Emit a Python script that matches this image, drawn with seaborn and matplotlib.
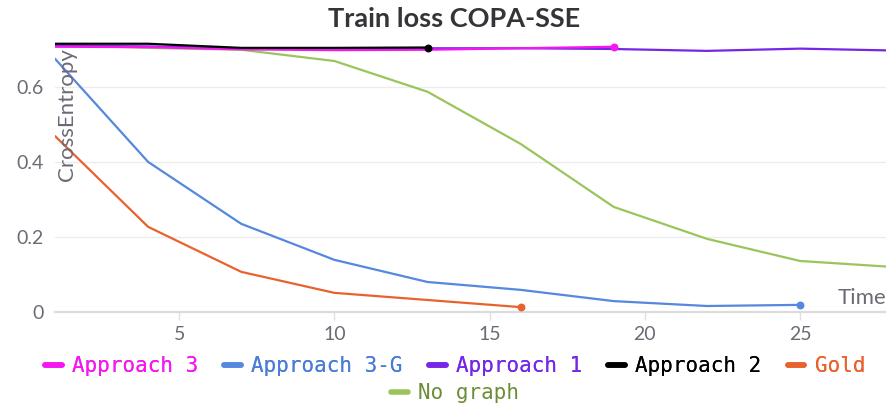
import matplotlib
matplotlib.use("Agg")
import matplotlib.pyplot as plt
from matplotlib.lines import Line2D
import seaborn as sns
import pandas as pd

# training steps logged every 3 epochs
steps = [1, 4, 7, 10, 13, 16, 19, 22, 25, 28]

approach_3   = [0.707, 0.706, 0.700, 0.698, 0.699, 0.703, 0.707]
approach_3g  = [0.675, 0.400, 0.235, 0.139, 0.080, 0.059, 0.029, 0.016, 0.019]
approach_1   = [0.710, 0.708, 0.702, 0.702, 0.703, 0.703, 0.701, 0.696, 0.702, 0.697]
approach_2   = [0.715, 0.715, 0.704, 0.704, 0.705]
gold         = [0.469, 0.227, 0.107, 0.051, 0.032, 0.013]
no_graph     = [0.712, 0.704, 0.699, 0.669, 0.587, 0.448, 0.280, 0.195, 0.136, 0.120]

series = {
    "Approach 3": approach_3,
    "Approach 3-G": approach_3g,
    "Approach 1": approach_1,
    "Approach 2": approach_2,
    "Gold": gold,
    "No graph": no_graph,
}
line_colors = {
    "Approach 3": "#f516f0",
    "Approach 3-G": "#5588de",
    "Approach 1": "#7526e6",
    "Approach 2": "#000000",
    "Gold": "#e8622e",
    "No graph": "#9bc45c",
}
text_colors = dict(line_colors, **{"No graph": "#6c8c35", "Approach 3-G": "#4a7ed6"})
draw_order = ["No graph", "Gold", "Approach 3-G", "Approach 1", "Approach 3", "Approach 2"]

rows = []
for name, vals in series.items():
    for s, v in zip(steps, vals):
        rows.append({"Time": s, "CrossEntropy": v, "run": name})
df = pd.DataFrame(rows)

sns.set_style("white")
plt.rcParams["font.family"] = ["Lato", "DejaVu Sans"]

fig = plt.figure(figsize=(8.87, 4.07), dpi=100)
ax = fig.add_axes([55 / 887, 1 - 312 / 407, 1 - 55 / 887, 272 / 407])

sns.lineplot(data=df, x="Time", y="CrossEntropy", hue="run", hue_order=draw_order,
             palette=line_colors, linewidth=1.6, legend=False, ax=ax)
for name in draw_order:
    vals = series[name]
    ax.scatter([steps[len(vals) - 1]], [vals[-1]], s=22, color=line_colors[name], zorder=5)

ax.set_xlim(1, 27.8)
ax.set_ylim(0, 0.725)
ax.set_xticks([5, 10, 15, 20, 25])
ax.set_yticks([0, 0.2, 0.4, 0.6])
ax.set_yticklabels(["0", "0.2", "0.4", "0.6"])
ax.yaxis.grid(True, color="#ececec", linewidth=1)
ax.xaxis.grid(False)
for side in ["top", "right", "left"]:
    ax.spines[side].set_visible(False)
ax.spines["bottom"].set_color("#dcdcdc")
ax.spines["bottom"].set_linewidth(1.6)
ax.tick_params(axis="x", length=6, width=1, color="#e0e0e0", labelsize=14,
               labelcolor="#6b6b76", pad=4, bottom=True)
ax.tick_params(axis="y", length=0, labelsize=14, labelcolor="#6b6b76", pad=8)

ax.set_xlabel("")
ax.set_ylabel("")
ax.text(0.003, 0.97, "CrossEntropy", transform=ax.transAxes, rotation=90,
        ha="left", va="top", fontsize=16, color="#6b6b76")
ax.text(0.999, 0.015, "Time", transform=ax.transAxes, ha="right", va="bottom",
        fontsize=16, color="#6b6b76")

fig.text(0.512, 0.953, "Train loss COPA-SSE", ha="center", va="center",
         fontsize=19.5, fontweight="bold", color="#333538")

names = list(series.keys())
handles = [Line2D([], [], color=line_colors[n], linewidth=4) for n in names]
leg1 = fig.legend(handles[:5], names[:5], loc="center", bbox_to_anchor=(0.513, 1 - 366 / 407),
                  ncol=5, frameon=False, handlelength=0.8, handletextpad=0.5, columnspacing=1.25,
                  prop={"family": "DejaVu Sans Mono", "size": 15})
for t, n in zip(leg1.get_texts(), names[:5]):
    t.set_color(text_colors[n])
leg2 = fig.legend(handles[5:], names[5:], loc="center", bbox_to_anchor=(0.513, 1 - 393 / 407),
                  ncol=1, frameon=False, handlelength=0.8, handletextpad=0.5,
                  prop={"family": "DejaVu Sans Mono", "size": 15})
for t, n in zip(leg2.get_texts(), names[5:]):
    t.set_color(text_colors[n])
fig.add_artist(leg1)

fig.savefig("out.png", dpi=100)
